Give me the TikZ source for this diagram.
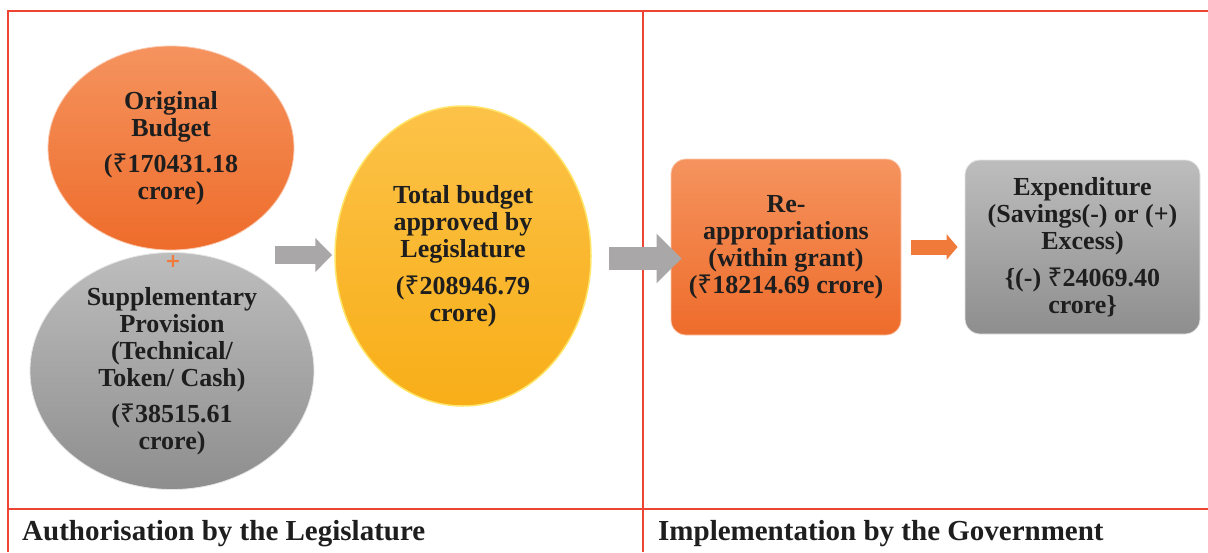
\documentclass[tikz,border=0pt]{standalone}
\usepackage{fontspec}
\setmainfont{Liberation Serif}
\newfontfamily\rsfont{Noto Sans}
\newfontfamily\plusfont{DejaVu Sans}
\newcommand{\rupee}{{\rsfont\bfseries ₹}}
\usetikzlibrary{shapes.geometric,arrows.meta}
\definecolor{frame}{HTML}{EE4433}
\definecolor{orgT}{HTML}{F5935E}
\definecolor{orgB}{HTML}{EE6C2B}
\definecolor{gryT}{HTML}{BDBDBD}
\definecolor{gryB}{HTML}{8E8E8E}
\definecolor{ylwT}{HTML}{FCC248}
\definecolor{ylwB}{HTML}{F8AE18}
\definecolor{ylwRim}{HTML}{FFE56A}
\definecolor{arrGray}{HTML}{A9A7A7}
\definecolor{arrOrg}{HTML}{F07A3A}
\definecolor{ink}{HTML}{1E1E1E}
\begin{document}
\begin{tikzpicture}[x=1pt,y=-1pt,
  txt/.style={font=\bfseries\fontsize{26}{27}\selectfont, align=center, text=ink},
  ell/.style={ellipse, inner sep=0pt, txt},
  rbox/.style={rectangle, rounded corners=15pt, inner sep=0pt, txt},
  border/.style={draw=frame, line width=1.8pt},
  label/.style={font=\bfseries\fontsize{29}{32}\selectfont, text=ink, anchor=base west, inner sep=0pt},
]
\useasboundingbox (0,0) rectangle (1208,552);
\fill[white] (0,0) rectangle (1208,552);

% frame
\draw[border] (8,552) -- (8,11) -- (1208,11);
\draw[border, line width=1.5pt] (8,509) -- (1208,509);
\draw[border, line width=1.5pt] (643,11) -- (643,552);

% left panel
\node[ell, minimum width=246pt, minimum height=204pt, top color=orgT, bottom color=orgB, draw=orgT!50!white, line width=0.8pt] (orig) at (171,148)
  {Original\\Budget\\[9pt](\rupee170431.18\\crore)};
\node[ell, minimum width=284pt, minimum height=192pt, top color=gryT, bottom color=gryB, draw=gryT!40!white, line width=0.8pt] (supp) at (172,371)
  {Supplementary\\Provision\\(Technical/\\Token/ Cash)\\[9pt](\rupee38515.61\\crore)};
\node[font=\plusfont\bfseries\fontsize{19}{19}\selectfont, text=arrOrg, inner sep=0pt] (plus) at (173,262) {+};
\node[ell, minimum width=256pt, minimum height=300pt, top color=ylwT, bottom color=ylwB, draw=ylwRim, line width=1.5pt] (total) at (463,256)
  {Total budget\\approved by\\Legislature\\[10pt](\rupee208946.79\\crore)};

\coordinate (a1s) at (275,255);
\draw[arrGray, line width=18pt, -{Triangle[length=17pt,width=33pt]}, shorten >=2pt] (a1s) -- (a1s -| total.west);

% right panel
\node[rbox, minimum width=230pt, minimum height=176pt, top color=orgT, bottom color=orgB, draw=orgT!50!white, line width=0.8pt] (reap) at (786,247)
  {Re-\\appropriations\\(within grant)\\(\rupee18214.69 crore)};
\node[rbox, minimum width=235pt, minimum height=174pt, top color=gryT, bottom color=gryB, draw=gryT!40!white, line width=0.8pt] (exp) at (1082.5,247)
  {Expenditure\\(Savings(-) or (+)\\Excess)\\[10pt]\{(-) \rupee24069.40\\crore\}};

\coordinate (a2s) at (609,258.5);
\draw[arrGray, line width=23pt, -{Triangle[length=25pt,width=48pt]}, shorten >=-11pt] (a2s) -- (a2s -| reap.west);
\draw[arrOrg, line width=15pt, -{Triangle[length=11pt,width=25pt]}, shorten <=10pt, shorten >=7pt] (reap.east) -- (exp.west);

% labels
\node[label] (lab1) at (22,540) {Authorisation by the Legislature};
\node[label] (lab2) at (658,540) {Implementation by the Government};
\end{tikzpicture}
\end{document}
